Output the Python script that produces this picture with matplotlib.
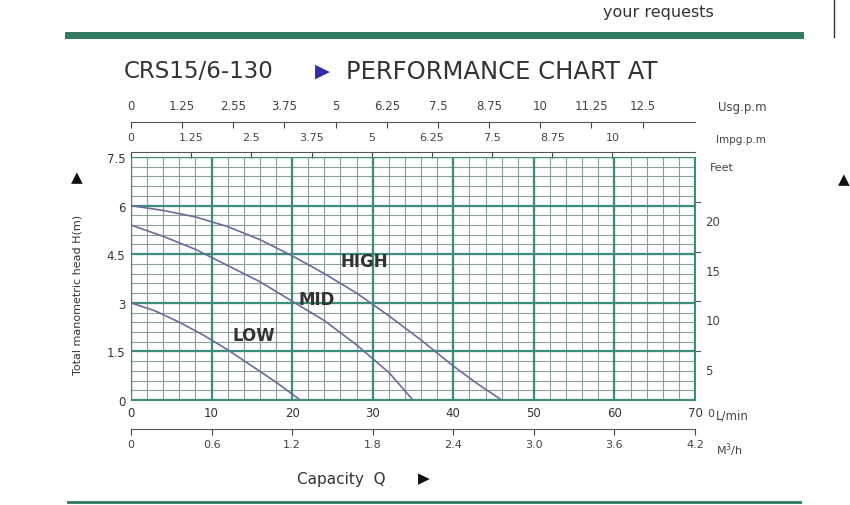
import matplotlib.pyplot as plt
import numpy as np

q_high = [0, 4, 8, 12, 16, 20, 24, 28, 32, 36, 40, 43, 46]
h_high = [6.0, 5.85, 5.65, 5.35, 4.95, 4.45, 3.9, 3.3, 2.6, 1.85, 1.05, 0.5, 0.0]
q_mid = [0, 4, 8, 12, 16, 20, 24, 28, 32, 35]
h_mid = [5.4, 5.05, 4.65, 4.15, 3.65, 3.05, 2.45, 1.7, 0.85, 0.0]
q_low = [0, 3, 6, 9, 12, 15, 18, 21]
h_low = [3.0, 2.75, 2.4, 2.0, 1.55, 1.05, 0.55, 0.0]

lmin_ticks = [0, 10, 20, 30, 40, 50, 60, 70]
m3h_labels = ["0", "0.6", "1.2", "1.8", "2.4", "3.0", "3.6", "4.2"]
usg_labels = ["0", "1.25", "2.55", "3.75", "5", "6.25", "7.5", "8.75", "10", "11.25", "12.5"]
impg_labels = ["0", "1.25", "2.5", "3.75", "5", "6.25", "7.5", "8.75", "10"]
h_ticks = [0, 1.5, 3, 4.5, 6, 7.5]
feet_ticks = [5, 10, 15, 20]

green = "#3d8c7c"
minor = "#8aa09a"
curve = "#6b6b9c"

fig = plt.figure(figsize=(8.5, 5.06), dpi=100)
ax = fig.add_axes([131/850, 1-401/506, 564/850, 243/506])
ax.set_xlim(0, 70)
ax.set_ylim(0, 7.5)

for x in np.arange(0, 71, 2):
    ax.axvline(x, color=minor, lw=0.8, zorder=1)
for y in np.arange(0, 7.51, 0.3):
    ax.axhline(y, color=minor, lw=0.8, zorder=1)
for x in lmin_ticks:
    ax.axvline(x, color=green, lw=1.6, zorder=2)
for y in h_ticks:
    ax.axhline(y, color=green, lw=1.6, zorder=2)

ax.plot(q_high, h_high, color=curve, lw=1.2, zorder=3)
ax.plot(q_mid, h_mid, color=curve, lw=1.2, zorder=3)
ax.plot(q_low, h_low, color=curve, lw=1.2, zorder=3)
ax.text(26, 4.15, "HIGH", fontsize=12, fontweight="bold", color="#333333")
ax.text(20.8, 2.95, "MID", fontsize=12, fontweight="bold", color="#333333")
ax.text(12.6, 1.85, "LOW", fontsize=12, fontweight="bold", color="#333333")

for s in ax.spines.values():
    s.set_color(green)
ax.set_xticks(lmin_ticks)
ax.set_yticks(h_ticks)
ax.set_yticklabels(["0", "1.5", "3", "4.5", "6", "7.5"])
ax.tick_params(length=0, labelsize=8.5, colors="#333333", pad=4)

# right feet scale
for f in feet_ticks:
    hm = f * 0.3048
    ax.plot([70, 70.6], [hm, hm], color="#555555", lw=0.8, clip_on=False)
    ax.text(71.3, hm - 0.6, str(f), fontsize=8.5, color="#444444", va="center")
ax.text(71.8, 7.2, "Feet", fontsize=8, color="#444444", va="center")
ax.text(71.5, -0.4, "0", fontsize=8, color="#444444", va="center")

# top scales
usg = ax.secondary_xaxis(1.144)
usg.set_xticks(np.arange(len(usg_labels)) * 6.35)
usg.set_xticklabels(usg_labels)
impg = ax.secondary_xaxis(1.02)
impg.set_xticks(np.arange(len(impg_labels)) * 7.47)
impg.set_xticklabels(impg_labels)
m3h = ax.secondary_xaxis(-0.12)
m3h.set_xticks(lmin_ticks)
m3h.set_xticklabels(m3h_labels)
for sx in (usg, impg, m3h):
    sx.spines["top"].set_color("#555555")
    sx.spines["bottom"].set_color("#555555")
    sx.tick_params(length=4, width=0.8, labelsize=8, colors="#444444", pad=3)
usg.tick_params(direction="in", pad=7, labelsize=8.5)
impg.tick_params(direction="in", pad=7)

fig.text(718/850, 1-108/506, "Usg.p.m", fontsize=8.5, color="#444444", va="center")
fig.text(716/850, 1-140/506, "Impg.p.m", fontsize=7.5, color="#444444", va="center")
fig.text(716/850, 1-416/506, "L/min", fontsize=8.5, color="#444444", va="center")
fig.text(716/850, 1-450/506, "M$^3$/h", fontsize=8, color="#444444", va="center")
fig.text(77/850, 1-295/506, "Total manometric head H(m)", fontsize=8, color="#333333",
         rotation=90, ha="center", va="center")
fig.text(77/850, 1-178/506, "\u25b2", fontsize=11, color="#111111", ha="center", va="center")
fig.text(297/850, 1-480/506, "Capacity  Q", fontsize=11, color="#333333", va="center")
fig.text(424/850, 1-479/506, "\u25b6", fontsize=11, color="#111111", ha="center", va="center")

fig.text(124/850, 1-72/506, "CRS15/6-130", fontsize=16.5, color="#333333", va="center")
fig.text(322/850, 1-71/506, "\u25b6", fontsize=14, color="#2b2fa8", ha="center", va="center")
fig.text(346/850, 1-72/506, "PERFORMANCE CHART AT", fontsize=17.5, color="#333333", va="center")
fig.text(603/850, 1-13/506, "your requests", fontsize=11.5, color="#333333", va="center")

fig.add_artist(plt.Line2D([68/850, 800/850], [1-36/506, 1-36/506], color="#2f7a60", lw=5))
fig.add_artist(plt.Line2D([68/850, 800/850], [1-503/506, 1-503/506], color="#2f7a60", lw=2))
fig.add_artist(plt.Line2D([834/850, 834/850], [1-38/506, 1], color="#333333", lw=1))
fig.text(838/850, 1-180/506, "\u25b2", fontsize=11, color="#111111", va="center")

fig.savefig("out.png", dpi=100)
